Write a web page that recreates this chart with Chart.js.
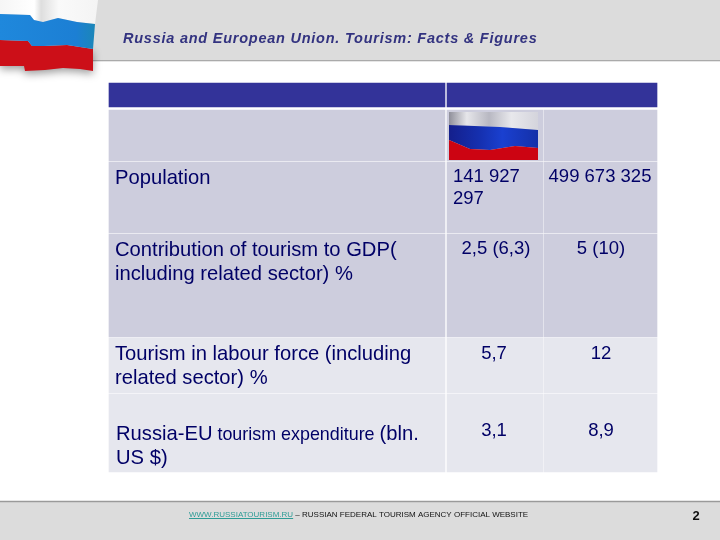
<!DOCTYPE html>
<html>
<head>
<meta charset="utf-8">
<title>Russia and European Union. Tourism: Facts & Figures</title>
<script src="https://cdn.jsdelivr.net/npm/chart.js@4"></script>
<style>
  html, body { margin: 0; padding: 0; background: #fff; }
  canvas { display: block; }
</style>
</head>
<body>
<canvas id="slide" width="720" height="540"></canvas>
<script>
// ── TABLE CONTENT ──────────────────────────────────────────────────────────

const slideTitle = 'Russia and European Union. Tourism: Facts & Figures';
const rowLabels = [
  ['Population'],
  ['Contribution of tourism to GDP(', 'including related sector) %'],
  ['Tourism in labour force (including', 'related sector) %'],
  ['Russia-EU tourism expenditure (bln.', 'US $)'],
];
const russiaValues = [['141 927', '297'], ['2,5 (6,3)'], ['5,7'], ['3,1']];
const euValues = ['499 673 325', '5 (10)', '12', '8,9'];
const footerLink = 'WWW.RUSSIATOURISM.RU';
const footerText = ' – RUSSIAN FEDERAL TOURISM AGENCY OFFICIAL WEBSITE';
const pageNumber = '2';

// ── LAYOUT (page pixels, the axes below run 0-720 and 0-540) ───────────────

const colEdges = [109, 446, 544, 657];
const rowEdges = [110, 161, 233, 337, 393, 472];
const rowFills = ['#cdcddd', '#cdcddd', '#cdcddd', '#e6e7ee', '#e6e7ee'];
const INK = '#000066';
const BODY_FONT = '"Liberation Sans", Arial, sans-serif';

// every band shares one stack so Chart.js keeps it centred on its own y value
function band(label, y0, y1, spans, color) {
  return {
    label,
    data: spans.map(([a, b]) => ({ x: [a, b], y: (y0 + y1) / 2 })),
    barThickness: y1 - y0,
    backgroundColor: color,
    stack: 'slide',
  };
}

const cellSpans = [
  [colEdges[0], colEdges[1] - 1],
  [colEdges[1] + 1, colEdges[2] - 1],
  [colEdges[2], colEdges[3]],
];

const datasets = [
  band('top band', 0, 60, [[0, 720]], '#dcdcdc'),
  band('top rule', 60, 61, [[0, 720]], '#9a9a9a'),
  band('bottom rule', 501, 502, [[0, 720]], '#9a9a9a'),
  band('bottom band', 502, 540, [[0, 720]], '#dcdcdc'),
  band('header', 83, 107, [[colEdges[0], colEdges[1] - 1], [colEdges[1] + 1, colEdges[3]]], '#333399'),
];
rowFills.forEach((fill, i) => {
  datasets.push(band('row ' + i, rowEdges[i] + (i ? 1 : 0), rowEdges[i + 1], cellSpans, fill));
});

// ── FLAG DRAWING ───────────────────────────────────────────────────────────

function waveBand(ctx, top, bottom, fill) {
  ctx.beginPath();
  ctx.moveTo(top[0][0], top[0][1]);
  for (let i = 1; i < top.length; i++) ctx.lineTo(top[i][0], top[i][1]);
  for (let i = bottom.length - 1; i >= 0; i--) ctx.lineTo(bottom[i][0], bottom[i][1]);
  ctx.closePath();
  ctx.fillStyle = fill;
  ctx.fill();
}

function drawCornerFlag(ctx) {
  const edgeTop = [[0, 0], [98, 0]];
  const whiteBlue = [[0, 14], [30, 15], [34, 20], [43, 22], [58, 18], [77, 22], [95, 24]];
  const blueRed = [[0, 40], [28, 41], [32, 46], [44, 46], [67, 45], [93, 49]];
  const redEnd = [[0, 66], [24, 66], [25, 71], [45, 70], [63, 68], [80, 69], [93, 71]];

  ctx.save();
  ctx.shadowColor = 'rgba(0,0,0,0.4)';
  ctx.shadowBlur = 8;
  ctx.shadowOffsetY = 3;
  waveBand(ctx, blueRed, redEnd, '#cc0f18');
  ctx.restore();

  const white = ctx.createLinearGradient(0, 0, 98, 0);
  white.addColorStop(0, '#f6f6f6');
  white.addColorStop(0.35, '#ffffff');
  white.addColorStop(0.42, '#dedede');
  white.addColorStop(0.6, '#fafafa');
  white.addColorStop(1, '#f4f4f4');
  waveBand(ctx, edgeTop, whiteBlue, white);

  const blue = ctx.createLinearGradient(0, 0, 95, 0);
  blue.addColorStop(0, '#1f88dc');
  blue.addColorStop(0.8, '#1c7fd4');
  blue.addColorStop(1, '#1b86b8');
  waveBand(ctx, whiteBlue, blueRed, blue);
}

function drawCellFlag(ctx) {
  const whiteEdge = [[449, 125], [500, 127], [538, 130]];
  const redEdge = [[449, 140], [470, 149], [490, 150], [515, 146], [538, 148]];

  const white = ctx.createLinearGradient(449, 0, 538, 0);
  white.addColorStop(0, '#8f8f9a');
  white.addColorStop(0.2, '#e6e6ea');
  white.addColorStop(0.45, '#b8b8c2');
  white.addColorStop(0.7, '#e8e8ec');
  white.addColorStop(1, '#d4d4dc');
  waveBand(ctx, [[449, 112], [538, 112]], whiteEdge, white);

  const blue = ctx.createLinearGradient(449, 0, 538, 0);
  blue.addColorStop(0, '#141f8c');
  blue.addColorStop(0.35, '#1530b0');
  blue.addColorStop(0.6, '#1a40d0');
  blue.addColorStop(1, '#1430a8');
  waveBand(ctx, whiteEdge, redEdge, blue);

  waveBand(ctx, redEdge, [[449, 160], [538, 160]], '#cc0412');
}

// ── TEXT ───────────────────────────────────────────────────────────────────

function text(ctx, str, x, y, font, color, align) {
  ctx.font = font;
  ctx.fillStyle = color;
  ctx.textAlign = align || 'left';
  ctx.textBaseline = 'alphabetic';
  ctx.fillText(str, x, y);
}

function drawLabels(ctx) {
  const label = '20.2px ' + BODY_FONT;
  const small = '17.9px ' + BODY_FONT;
  const value = '18.5px ' + BODY_FONT;

  text(ctx, rowLabels[0][0], 115, 184, label, INK);
  text(ctx, rowLabels[1][0], 115, 256, label, INK);
  text(ctx, rowLabels[1][1], 115, 280, label, INK);
  text(ctx, rowLabels[2][0], 115, 360, label, INK);
  text(ctx, rowLabels[2][1], 115, 384, label, INK);

  // the last label changes size in the middle of the line
  const first = rowLabels[3][0];
  const partA = first.slice(0, 9);
  const partB = first.slice(9, 30);
  const partC = first.slice(30);
  let x = 116;
  text(ctx, partA, x, 440, label, INK);
  x += ctx.measureText(partA).width;
  text(ctx, partB, x, 440, small, INK);
  x += ctx.measureText(partB).width;
  text(ctx, partC, x, 440, label, INK);
  text(ctx, rowLabels[3][1], 116, 464, label, INK);

  // value columns
  text(ctx, russiaValues[0][0], 453, 182, value, INK);
  text(ctx, russiaValues[0][1], 453, 204, value, INK);
  text(ctx, euValues[0], 600, 182, value, INK, 'center');
  const rowBase = [254, 359, 436];
  rowBase.forEach((y, i) => {
    text(ctx, russiaValues[i + 1][0], i ? 494 : 496, y, value, INK, 'center');
    text(ctx, euValues[i + 1], 601, y, value, INK, 'center');
  });
}

const slidePlugin = {
  id: 'slideDecor',
  afterDatasetsDraw(chart) {
    const ctx = chart.ctx;
    ctx.save();
    drawCornerFlag(ctx);
    drawCellFlag(ctx);

    ctx.letterSpacing = '0.76px';
    text(ctx, slideTitle, 123, 43, 'italic bold 14.5px ' + BODY_FONT, '#333380');
    ctx.letterSpacing = '0px';

    const linkFont = '8px ' + BODY_FONT;
    text(ctx, footerLink, 189, 517, linkFont, '#2e9c96');
    const linkW = ctx.measureText(footerLink).width;
    ctx.fillStyle = '#2e9c96';
    ctx.fillRect(189, 518, linkW, 1);
    text(ctx, footerText, 189 + linkW, 517, linkFont, '#111111');
    text(ctx, pageNumber, 696, 520, 'bold 13px ' + BODY_FONT, '#111111', 'center');

    drawLabels(ctx);
    ctx.restore();
  },
};

new Chart(document.getElementById('slide'), {
  type: 'bar',
  data: { datasets },
  options: {
    indexAxis: 'y',
    responsive: false,
    animation: false,
    layout: { padding: 0 },
    plugins: { legend: { display: false }, tooltip: { enabled: false } },
    scales: {
      x: { type: 'linear', min: 0, max: 720, display: false, offset: false },
      y: { type: 'linear', min: 0, max: 540, reverse: true, display: false, offset: false },
    },
  },
  plugins: [slidePlugin],
});
</script>
</body>
</html>
